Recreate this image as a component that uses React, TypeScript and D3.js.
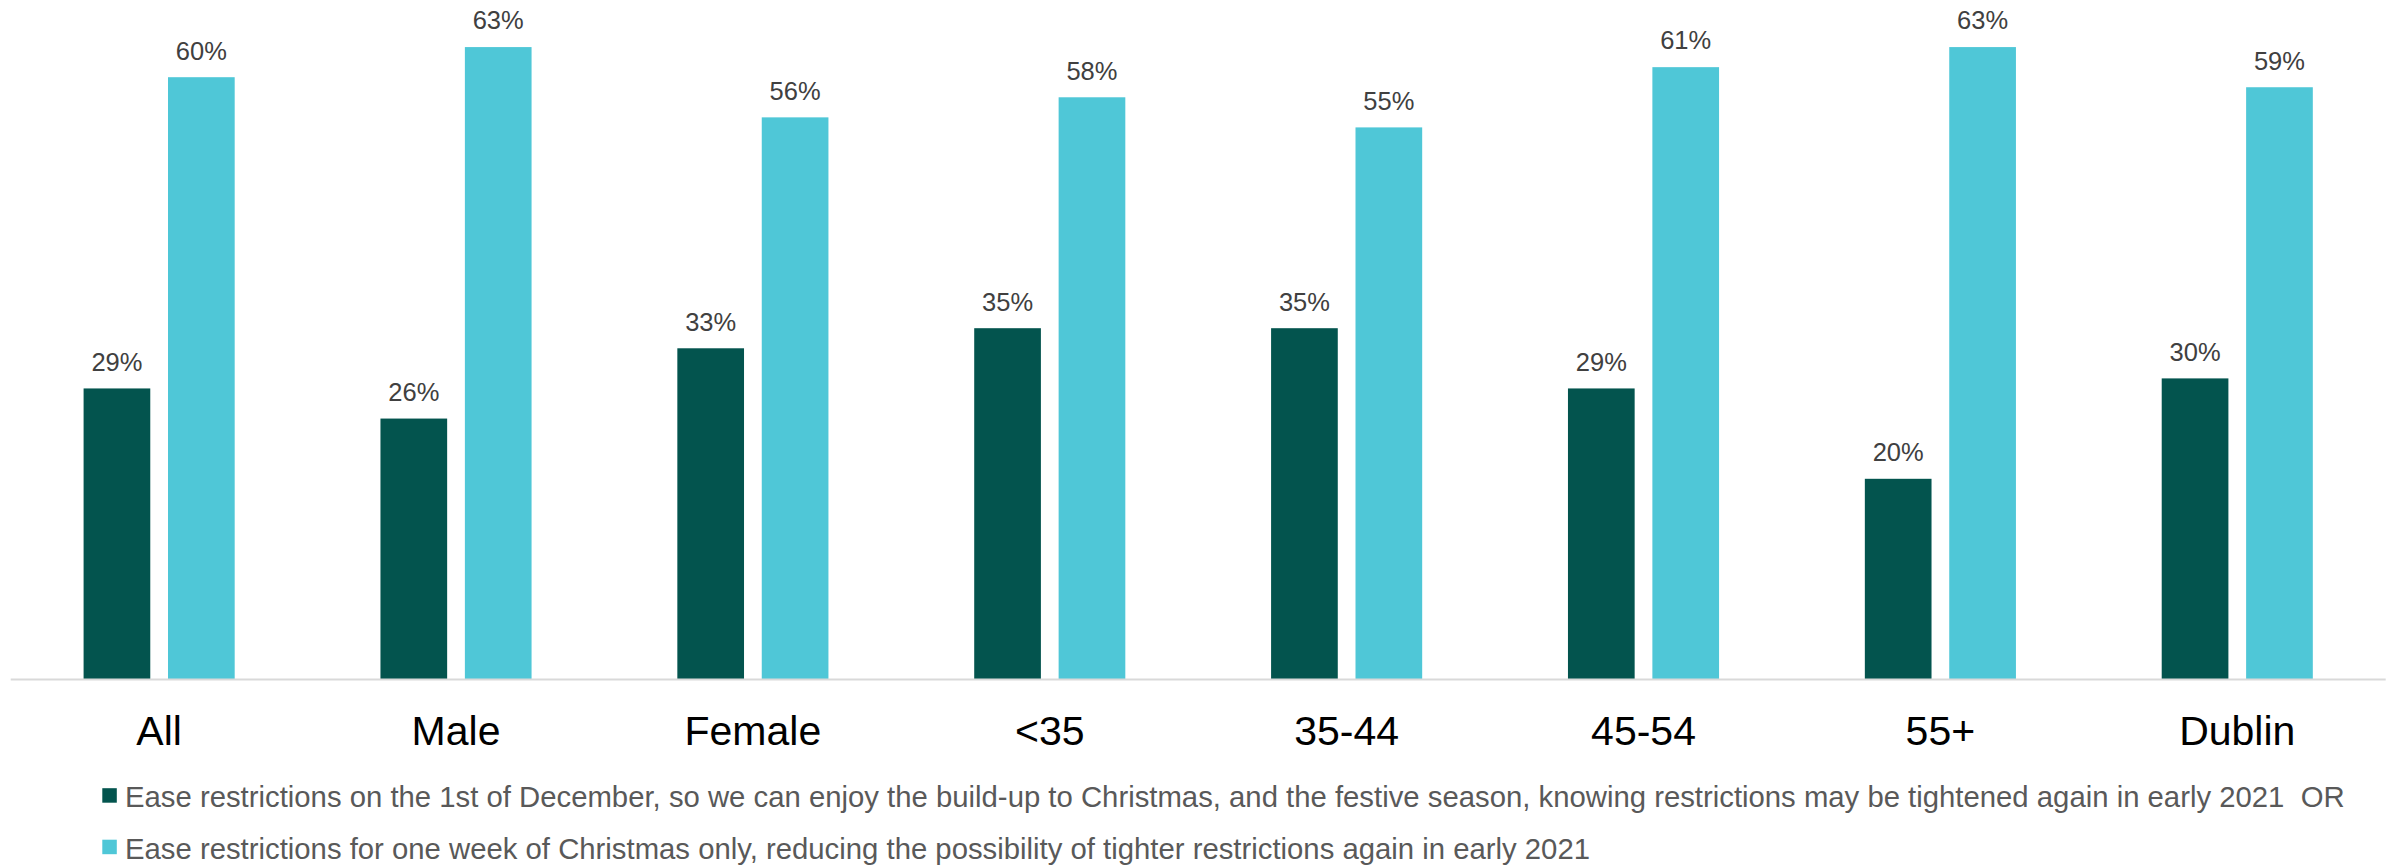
import React from "react";
import * as d3 from "d3";

const categories = ["All", "Male", "Female", "<35", "35-44", "45-54", "55+", "Dublin"];
const seriesNames = [
  "Ease restrictions on the 1st of December, so we can enjoy the build-up to Christmas, and the festive season, knowing restrictions may be tightened again in early 2021  OR",
  "Ease restrictions for one week of Christmas only, reducing the possibility of tighter restrictions again in early 2021",
];
const easeDecember = [29, 26, 33, 35, 35, 29, 20, 30];
const easeChristmasWeek = [60, 63, 56, 58, 55, 61, 63, 59];
const seriesColors = ["#03544E", "#4FC7D7"];

const W = 2394;
const H = 865;
const FONT = "'Liberation Sans', Arial, Helvetica, sans-serif";

export default function App() {
  const series = [easeDecember, easeChristmasWeek];
  const axisY = 679.6;
  const x0 = d3.scaleBand<string>().domain(categories).range([10.7, 2385.7]).paddingInner(0).paddingOuter(0);
  const bw = x0.bandwidth();
  const groupW = 151.1;
  const x1 = d3
    .scaleBand<number>()
    .domain([0, 1])
    .range([(bw - groupW) / 2, (bw + groupW) / 2])
    .paddingInner(0.21)
    .paddingOuter(0);
  const y = d3.scaleLinear().domain([0, 60]).range([axisY, axisY - 602.4]);

  return (
    <svg
      width={W}
      height={H}
      style={{ position: "absolute", left: 0, top: 0, background: "#fff", fontFamily: FONT }}
    >
      {categories.map((c, i) => (
        <g key={c} transform={`translate(${x0(c)},0)`}>
          {series.map((s, si) => (
            <g key={si}>
              <rect
                x={x1(si)}
                y={y(s[i])}
                width={x1.bandwidth()}
                height={axisY - y(s[i])}
                fill={seriesColors[si]}
              />
              <text
                x={(x1(si) as number) + x1.bandwidth() / 2}
                y={y(s[i]) - 17.7}
                textAnchor="middle"
                fontSize={25.5}
                fill="#404040"
              >
                {s[i]}%
              </text>
            </g>
          ))}
          <text x={bw / 2} y={745} textAnchor="middle" fontSize={41} fill="#000">
            {c}
          </text>
        </g>
      ))}
      <line x1={10.7} x2={2385.7} y1={axisY} y2={axisY} stroke="#D9D9D9" strokeWidth={2} />
      {seriesNames.map((n, si) => (
        <g key={si} transform={`translate(0,${795.5 + si * 51.5})`}>
          <rect x={102.3} y={-7.3} width={14.5} height={14.5} fill={seriesColors[si]} />
          <text x={125} y={11.8} fontSize={29.3} fill="#595959" style={{ whiteSpace: "pre" }}>
            {n}
          </text>
        </g>
      ))}
    </svg>
  );
}
